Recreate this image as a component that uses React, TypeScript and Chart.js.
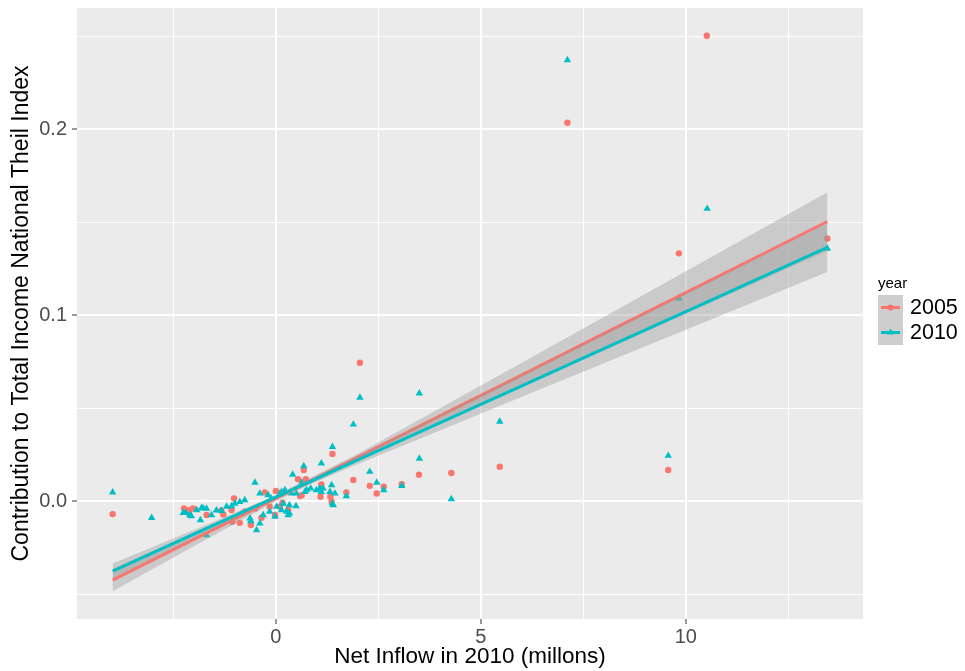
import React, { useEffect, useRef } from "react";
import { Chart, registerables } from "chart.js";

Chart.register(...registerables);

const FONT = "'Liberation Sans', Arial, Helvetica, sans-serif";
const COL_2005 = "#F8766D";
const COL_2010 = "#00BFC4";
const RIBBON = "rgba(153,153,153,0.4)";

const seriesNames = ["2005", "2010"];

// 2005 observations (net inflow, contribution)
const x2005 = [-3.98, -2.24, -2.11, -2.02, -1.69, -1.33, -1.28, -1.08, -1.06, -1.02, -0.88, -0.76, -0.61, -0.5, -0.35, -0.27, -0.15, -0.02, 0.0, 0.1, 0.16, 0.3, 0.54, 0.59, 0.63, 0.68, 0.73, 1.09, 1.11, 1.33, 1.36, 1.38, 1.72, 1.89, 2.05, 2.29, 2.46, 2.63, 3.07, 3.49, 4.28, 5.46, 7.11, 9.57, 9.83, 10.51, 13.45];
const y2005 = [-0.007, -0.0039, -0.0048, -0.0039, -0.0075, -0.005, -0.0072, -0.0048, -0.0111, 0.0014, -0.0117, -0.0057, -0.0129, -0.004, -0.009, 0.0047, -0.003, -0.0075, 0.0054, -0.003, -0.0009, -0.0048, 0.0118, 0.0027, 0.0032, 0.0167, 0.0117, 0.0023, 0.009, 0.0023, -0.0004, 0.0253, 0.0047, 0.0113, 0.0744, 0.0082, 0.0041, 0.0077, 0.0091, 0.0142, 0.0151, 0.0185, 0.2034, 0.0167, 0.1332, 0.2502, 0.1412];

// 2010 observations
const x2010 = [-3.98, -3.03, -2.26, -2.2, -2.1, -2.06, -1.93, -1.84, -1.81, -1.77, -1.69, -1.69, -1.57, -1.45, -1.33, -1.2, -1.08, -1.0, -0.88, -0.76, -0.63, -0.61, -0.51, -0.47, -0.39, -0.39, -0.31, -0.19, -0.15, -0.11, -0.02, 0.02, 0.1, 0.14, 0.14, 0.18, 0.22, 0.26, 0.3, 0.33, 0.33, 0.38, 0.41, 0.49, 0.5, 0.63, 0.68, 0.71, 0.75, 0.85, 0.99, 1.07, 1.11, 1.11, 1.15, 1.32, 1.36, 1.38, 1.38, 1.4, 1.44, 1.72, 1.89, 2.05, 2.29, 2.46, 2.63, 3.07, 3.5, 3.5, 4.28, 5.46, 7.11, 9.57, 9.83, 10.52, 13.45];
const y2010 = [0.0047, -0.009, -0.0063, -0.0063, -0.0075, -0.0081, -0.0048, -0.0102, -0.0036, -0.0039, -0.004, -0.0183, -0.0075, -0.005, -0.0052, -0.003, -0.0027, -0.0013, -0.0004, 0.0005, -0.0093, -0.0108, 0.01, -0.0156, -0.012, 0.0041, -0.0075, 0.0032, -0.0057, 0.0014, -0.0084, -0.003, 0.0041, 0.005, -0.0048, -0.0013, 0.0059, -0.0057, -0.0075, -0.0022, -0.0066, 0.0041, 0.0143, -0.0027, 0.0041, 0.0099, 0.0188, 0.005, 0.0059, 0.0068, 0.0059, 0.0068, 0.0203, 0.005, 0.0068, 0.005, 0.0086, 0.0292, -0.0013, -0.0022, 0.0041, 0.0027, 0.0412, 0.0556, 0.0158, 0.01, 0.0059, 0.0082, 0.0579, 0.0229, 0.0011, 0.0427, 0.2371, 0.0244, 0.109, 0.1572, 0.1358];

// Linear fits with confidence bands, read along the x axis
const fitX = [-3.98, -2, 0, 2, 4, 6, 8, 10, 12, 13.45];
const fit2005 = [-0.0425, -0.0206, 0.0015, 0.0236, 0.0458, 0.0679, 0.09, 0.1121, 0.1342, 0.1503];
const lo2005 = [-0.0485, -0.0243, -0.0001, 0.0217, 0.0417, 0.0614, 0.081, 0.1007, 0.1203, 0.1346];
const hi2005 = [-0.0365, -0.0169, 0.0031, 0.0255, 0.0499, 0.0744, 0.099, 0.1235, 0.1481, 0.166];
const fit2010 = [-0.0376, -0.0178, 0.0021, 0.0221, 0.042, 0.062, 0.082, 0.1019, 0.1219, 0.1364];
const lo2010 = [-0.0416, -0.02, 0.0011, 0.0199, 0.038, 0.0561, 0.0741, 0.0921, 0.1101, 0.1232];
const hi2010 = [-0.0336, -0.0156, 0.0031, 0.0243, 0.046, 0.0679, 0.0899, 0.1117, 0.1337, 0.1496];

const xGridValues = [-2.5, 0, 2.5, 5, 7.5, 10, 12.5];
const xMajorValues = [0, 5, 10];
const xTickLabels = ["0", "5", "10"];
const yGridValues = [-0.05, 0, 0.05, 0.1, 0.15, 0.2, 0.25];
const yMajorValues = [0, 0.1, 0.2];
const yTickLabels = ["0.0", "0.1", "0.2"];

const X_MIN = -4.85, X_MAX = 14.32, Y_MIN = -0.0634, Y_MAX = 0.2651;

const xTitle = "Net Inflow in 2010 (millons)";
const yTitle = "Contribution to Total Income National Theil Index";
const legendTitle = "year";

const majorIndex = (majors: number[], v: number) => majors.findIndex((m) => Math.abs(m - v) < 1e-9);

const pts = (xs: number[], ys: number[]) => xs.map((x, i) => ({ x, y: ys[i] }));

const ggPlugin = {
  id: "ggDecor",
  beforeDraw(chart: any) {
    const { ctx, chartArea: a } = chart;
    ctx.save();
    ctx.fillStyle = "#EBEBEB";
    ctx.fillRect(a.left, a.top, a.right - a.left, a.bottom - a.top);
    ctx.restore();
  },
  afterDraw(chart: any) {
    const { ctx, chartArea: a } = chart;
    ctx.save();
    // axis titles
    ctx.fillStyle = "#000000";
    ctx.textAlign = "center";
    ctx.textBaseline = "middle";
    ctx.font = `22.5px ${FONT}`;
    ctx.fillText(xTitle, (a.left + a.right) / 2, 657);
    ctx.save();
    ctx.translate(22, (a.top + a.bottom) / 2);
    ctx.rotate(-Math.PI / 2);
    ctx.font = `23px ${FONT}`;
    ctx.fillText(yTitle, 0, 0);
    ctx.restore();

    // legend
    const kx = 878, kw = 25, kh = 25, ky = 295;
    ctx.font = `15px ${FONT}`;
    ctx.textAlign = "left";
    ctx.fillText(legendTitle, kx, 284);
    const cols = [COL_2005, COL_2010];
    seriesNames.forEach((name, i) => {
      const top = ky + i * kh;
      ctx.fillStyle = "#F2F2F2";
      ctx.fillRect(kx, top, kw, kh);
      ctx.fillStyle = RIBBON;
      ctx.fillRect(kx, top, kw, kh);
      const cy = top + kh / 2;
      ctx.strokeStyle = cols[i];
      ctx.lineWidth = 3;
      ctx.beginPath();
      ctx.moveTo(kx + 3, cy);
      ctx.lineTo(kx + kw - 3, cy);
      ctx.stroke();
      ctx.fillStyle = cols[i];
      const mx = kx + kw / 2;
      ctx.beginPath();
      if (i === 0) {
        ctx.arc(mx, cy, 3, 0, Math.PI * 2);
      } else {
        const r = 4;
        ctx.moveTo(mx, cy - r);
        ctx.lineTo(mx + r * 0.866, cy + r * 0.5);
        ctx.lineTo(mx - r * 0.866, cy + r * 0.5);
        ctx.closePath();
      }
      ctx.fill();
      ctx.fillStyle = "#000000";
      ctx.font = `21.5px ${FONT}`;
      ctx.textBaseline = "middle";
      ctx.fillText(name, kx + kw + 7, cy + 1);
    });
    ctx.restore();
  },
};

export default function App() {
  const ref = useRef<HTMLCanvasElement | null>(null);

  useEffect(() => {
    if (!ref.current) return;
    const gridColor = "#FFFFFF";
    const chart = new Chart(ref.current, {
      type: "scatter",
      data: {
        datasets: [
          {
            type: "line",
            label: "fit2010",
            data: pts(fitX, fit2010),
            borderColor: COL_2010,
            borderWidth: 3,
            pointRadius: 0,
            fill: false,
            tension: 0,
            order: 1,
          } as any,
          {
            type: "line",
            label: "hi2010",
            data: pts(fitX, hi2010),
            borderWidth: 0,
            borderColor: "rgba(0,0,0,0)",
            backgroundColor: RIBBON,
            pointRadius: 0,
            fill: "+1",
            tension: 0,
            order: 2,
          },
          {
            type: "line",
            label: "lo2010",
            data: pts(fitX, lo2010),
            borderWidth: 0,
            borderColor: "rgba(0,0,0,0)",
            pointRadius: 0,
            fill: false,
            tension: 0,
            order: 2,
          },
          {
            type: "line",
            label: "fit2005",
            data: pts(fitX, fit2005),
            borderColor: COL_2005,
            borderWidth: 3,
            pointRadius: 0,
            fill: false,
            tension: 0,
            order: 3,
          },
          {
            type: "line",
            label: "hi2005",
            data: pts(fitX, hi2005),
            borderWidth: 0,
            borderColor: "rgba(0,0,0,0)",
            backgroundColor: RIBBON,
            pointRadius: 0,
            fill: "+1",
            tension: 0,
            order: 4,
          },
          {
            type: "line",
            label: "lo2005",
            data: pts(fitX, lo2005),
            borderWidth: 0,
            borderColor: "rgba(0,0,0,0)",
            pointRadius: 0,
            fill: false,
            tension: 0,
            order: 4,
          },
          {
            type: "scatter",
            label: "2010",
            data: pts(x2010, y2010),
            pointStyle: "triangle",
            pointRadius: 4.3,
            pointBackgroundColor: COL_2010,
            pointBorderColor: COL_2010,
            pointBorderWidth: 0,
            order: 5,
          },
          {
            type: "scatter",
            label: "2005",
            data: pts(x2005, y2005),
            pointStyle: "circle",
            pointRadius: 3.2,
            pointBackgroundColor: COL_2005,
            pointBorderColor: COL_2005,
            pointBorderWidth: 0,
            order: 6,
          },
        ],
      },
      options: {
        animation: false,
        responsive: false,
        events: [],
        layout: { padding: { left: 0, top: 8, right: 102, bottom: 0 } },
        plugins: {
          legend: { display: false },
          tooltip: { enabled: false },
          filler: { propagate: false },
        },
        scales: {
          x: {
            type: "linear",
            min: X_MIN,
            max: X_MAX,
            border: { display: false },
            afterBuildTicks: (axis: any) => {
              axis.ticks = xGridValues.map((v) => ({ value: v }));
            },
            afterFit: (axis: any) => {
              axis.height = 52;
              axis.paddingLeft = 0;
              axis.paddingRight = 0;
            },
            grid: {
              color: gridColor,
              lineWidth: (c: any) => (majorIndex(xMajorValues, c.tick?.value) >= 0 ? 2 : 1),
              tickLength: 5,
              tickColor: (c: any) => (majorIndex(xMajorValues, c.tick?.value) >= 0 ? "#333333" : "rgba(0,0,0,0)"),
              tickWidth: 1,
            },
            ticks: {
              autoSkip: false,
              maxRotation: 0,
              padding: 1,
              color: "#4D4D4D",
              font: { family: FONT, size: 20 },
              callback: (v: any) => {
                const i = majorIndex(xMajorValues, Number(v));
                return i >= 0 ? xTickLabels[i] : "";
              },
            },
          },
          y: {
            type: "linear",
            min: Y_MIN,
            max: Y_MAX,
            border: { display: false },
            afterBuildTicks: (axis: any) => {
              axis.ticks = yGridValues.map((v) => ({ value: v }));
            },
            afterFit: (axis: any) => {
              axis.width = 77;
              axis.paddingTop = 0;
              axis.paddingBottom = 0;
            },
            grid: {
              color: gridColor,
              lineWidth: (c: any) => (majorIndex(yMajorValues, c.tick?.value) >= 0 ? 2 : 1),
              tickLength: 5,
              tickColor: (c: any) => (majorIndex(yMajorValues, c.tick?.value) >= 0 ? "#333333" : "rgba(0,0,0,0)"),
              tickWidth: 1,
            },
            ticks: {
              autoSkip: false,
              padding: 5,
              color: "#4D4D4D",
              font: { family: FONT, size: 20 },
              callback: (v: any) => {
                const i = majorIndex(yMajorValues, Number(v));
                return i >= 0 ? yTickLabels[i] : "";
              },
            },
          },
        },
      },
      plugins: [ggPlugin],
    } as any);
    return () => chart.destroy();
  }, []);

  return (
    <div style={{ position: "fixed", left: 0, top: 0, width: 965, height: 671, background: "#FFFFFF" }}>
      <canvas ref={ref} width={965} height={671} style={{ display: "block", width: 965, height: 671 }} />
    </div>
  );
}
